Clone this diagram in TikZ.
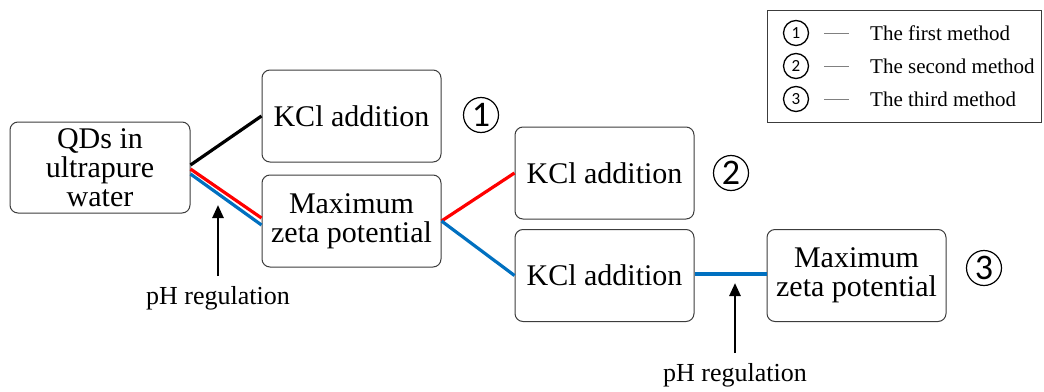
\documentclass[tikz,border=0pt]{standalone}
\usepackage{fontspec}
\setmainfont{Liberation Serif}
\setsansfont{Carlito}
\usetikzlibrary{arrows.meta}
\definecolor{myred}{RGB}{255,0,0}
\definecolor{myblue}{RGB}{0,112,192}
\definecolor{boxline}{RGB}{60,60,60}
\begin{document}
\begin{tikzpicture}[x=1pt,y=-1pt,
  stepbox/.style={draw=boxline, line width=1pt, rounded corners=8pt, minimum width=179pt, minimum height=92pt, align=center, inner sep=0pt, font=\fontsize{30}{29}\selectfont},
  link/.style={line width=3.2pt},
  bignum/.style={circle, draw, line width=1.2pt, minimum size=35pt, inner sep=0pt, font=\sffamily\fontsize{36}{36}\selectfont},
  smallnum/.style={circle, draw, line width=1.3pt, minimum size=25pt, inner sep=0pt, font=\sffamily\fontsize{17}{17}\selectfont},
  legtext/.style={anchor=west, inner sep=0pt, font=\fontsize{21}{21}\selectfont},
  phlabel/.style={inner sep=0pt, font=\fontsize{26}{26}\selectfont},
  uparrow/.style={line width=2.6pt, -{Triangle[length=13pt,width=11pt]}}
]
\useasboundingbox (0,0) rectangle (1044,391);
% boxes
\node[stepbox, minimum width=180pt, minimum height=91pt] (qd) at (100,167.5) {QDs in\\ultrapure\\water};
\node[stepbox] (k1) at (351.5,116) {KCl addition};
\node[stepbox] (m1) at (351.5,221) {Maximum\\zeta potential};
\node[stepbox] (k2) at (604.5,173) {KCl addition};
\node[stepbox] (k3) at (604.5,275.5) {KCl addition};
\node[stepbox] (m2) at (856.5,275.5) {Maximum\\zeta potential};
% numbers
\node[bignum] (n1) at (481,115) {1};
\node[bignum] (n2) at (731,173) {2};
\node[bignum] (n3) at (984,268) {3};
% connectors
\draw[link, black] ([yshift=2.5pt]qd.east) -- (k1.west);
\draw[link, myred] ([yshift=-1.5pt]qd.east) -- ([yshift=3pt]m1.west);
\draw[link, myblue] ([yshift=-6.5pt]qd.east) -- ([yshift=-4pt]m1.west);
\draw[link, myred] (m1.east) -- (k2.west);
\draw[link, myblue] (m1.east) -- (k3.west);
\draw[link, myblue] ([yshift=1.5pt]k3.east) -- ([yshift=1.5pt]m2.west);
% pH regulation
\node[phlabel] (ph1) at (218,298) {pH regulation};
\coordinate (a1) at (218,205);
\draw[uparrow] ([yshift=22pt]ph1.center) -- (a1);
\node[phlabel] (ph2) at (735,375) {pH regulation};
\coordinate (a2) at (735,283);
\draw[uparrow] ([yshift=22pt]ph2.center) -- (a2);
% legend
\node[draw=boxline, line width=1pt, minimum width=274pt, minimum height=112pt, inner sep=0pt] (leg) at (904,66) {};
\node[smallnum] (l1) at (796,33) {1};
\node[smallnum] (l2) at (796,66) {2};
\node[smallnum] (l3) at (796,99) {3};
\coordinate (d1) at (849,33);
\coordinate (d2) at (849,66);
\coordinate (d3) at (849,99);
\draw[gray, line width=0.8pt] ([xshift=15pt]l1.east) -- (d1);
\draw[gray, line width=0.8pt] ([xshift=15pt]l2.east) -- (d2);
\draw[gray, line width=0.8pt] ([xshift=15pt]l3.east) -- (d3);
\node[legtext] (t1) at (870,33) {The first method};
\node[legtext] (t2) at (870,66) {The second method};
\node[legtext] (t3) at (870,99) {The third method};
\end{tikzpicture}
\end{document}
